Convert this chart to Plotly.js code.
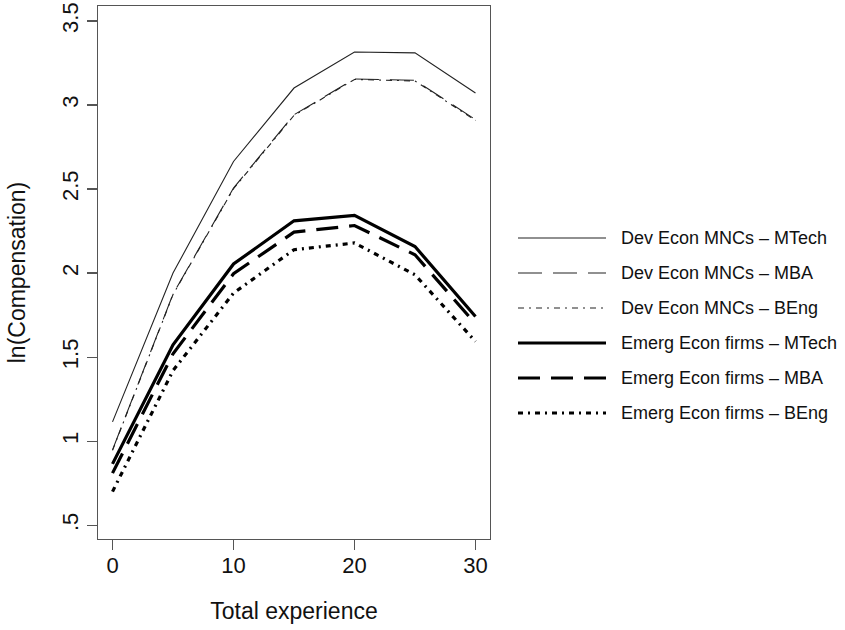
<!DOCTYPE html>
<html>
<head>
<meta charset="utf-8">
<script src="https://cdn.plot.ly/plotly-3.0.1.min.js"></script>
<style>html,body{margin:0;padding:0;background:#fff;}#chart{width:845px;height:630px;}</style>
</head>
<body>
<div id="chart"></div>
<script>
// ---- data ----
const experience = [0, 5, 10, 15, 20, 25, 30];
const devMTech  = [1.115, 2.00, 2.664, 3.101, 3.315, 3.310, 3.071];
const devMBA    = [0.948, 1.875, 2.506, 2.942, 3.155, 3.147, 2.913];
const devBEng   = [0.945, 1.872, 2.502, 2.938, 3.152, 3.143, 2.908];
const emMTech   = [0.865, 1.573, 2.054, 2.311, 2.343, 2.158, 1.742];
const emMBA     = [0.810, 1.520, 1.996, 2.244, 2.283, 2.109, 1.698];
const emBEng    = [0.700, 1.420, 1.881, 2.139, 2.179, 1.990, 1.593];
const seriesNames = [
  "Dev Econ MNCs \u2013 MTech",
  "Dev Econ MNCs \u2013 MBA",
  "Dev Econ MNCs \u2013 BEng",
  "Emerg Econ firms \u2013 MTech",
  "Emerg Econ firms \u2013 MBA",
  "Emerg Econ firms \u2013 BEng"
];
const yTickVals = [0.5, 1, 1.5, 2, 2.5, 3, 3.5];
const yTickText = [".5", "1", "1.5", "2", "2.5", "3", "3.5"];
const xTickVals = [0, 10, 20, 30];

// ---- styles ----
const seriesValues = [devMTech, devMBA, devBEng, emMTech, emMBA, emBEng];
const styles = [
  {color: "#222", width: 1.1, dash: "solid"},
  {color: "#222", width: 1.1, dash: "24px,11px"},
  {color: "#222", width: 1.1, dash: "6px,5px,2px,5px"},
  {color: "#000", width: 3.2, dash: "solid"},
  {color: "#000", width: 3.2, dash: "22px,11px"},
  {color: "#000", width: 3.2, dash: "5px,5px,2px,5px"}
];

const traces = seriesValues.map((vals, i) => ({
  type: "scatter", mode: "lines", name: seriesNames[i],
  x: experience, y: vals,
  line: {color: styles[i].color, width: styles[i].width, dash: styles[i].dash},
  showlegend: false, hoverinfo: "skip"
}));

// custom legend (R style), positions in paper coordinates
const L = 98, R = 490, T = 6, B = 539;
const pw = R - L, ph = B - T;
const px = v => (v - L) / pw;
const py = v => (B - v) / ph;
const shapes = [];
const annotations = [];
seriesNames.forEach((name, i) => {
  const yy = 238 + 35 * i;
  shapes.push({type: "line", xref: "paper", yref: "paper",
    x0: px(518), x1: px(606), y0: py(yy), y1: py(yy),
    line: {color: styles[i].color, width: styles[i].width, dash: styles[i].dash}});
  annotations.push({xref: "paper", yref: "paper", x: px(619), y: py(yy),
    xanchor: "left", yanchor: "middle", showarrow: false, text: name,
    font: {family: "Liberation Sans, Arial, sans-serif", size: 18, color: "#111"}});
});

const tickFont = {family: "Liberation Sans, Arial, sans-serif", size: 22, color: "#111"};
const titleFont = {family: "Liberation Sans, Arial, sans-serif", size: 23, color: "#111"};
const layout = {
  width: 845, height: 630,
  margin: {l: L, r: 845 - R, t: T, b: 630 - B, pad: 0},
  paper_bgcolor: "#fff", plot_bgcolor: "#fff",
  font: tickFont,
  showlegend: false,
  xaxis: {
    range: [-1.2, 31.2], tickvals: xTickVals, ticks: "outside", ticklen: 10,
    tickcolor: "#555", tickwidth: 1.2, showgrid: false, zeroline: false,
    showline: true, linecolor: "#555", linewidth: 1.3, mirror: true,
    tickfont: tickFont, ticklabelstandoff: -4,
    title: {text: "Total experience", font: titleFont, standoff: 26}
  },
  yaxis: {
    range: [0.418, 3.589], tickvals: yTickVals, ticktext: yTickText, tickangle: -90,
    ticks: "outside", ticklen: 10, tickcolor: "#555", tickwidth: 1.2,
    showgrid: false, zeroline: false,
    showline: true, linecolor: "#555", linewidth: 1.3, mirror: true,
    tickfont: tickFont,
    title: {text: "ln(Compensation)", font: titleFont, standoff: 26}
  },
  shapes: shapes,
  annotations: annotations
};

Plotly.newPlot("chart", traces, layout, {staticPlot: true, displayModeBar: false});
</script>
</body>
</html>
